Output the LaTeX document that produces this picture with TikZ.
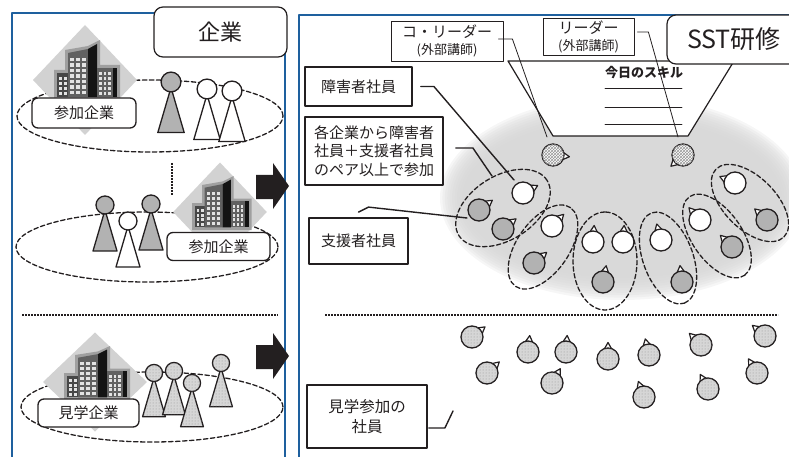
\documentclass[tikz,border=0pt]{standalone}
\usepackage{fontspec}
\setmainfont{Noto Sans CJK JP}
\usetikzlibrary{calc, patterns}

\definecolor{ink}{RGB}{35,31,32}
\definecolor{frameblue}{RGB}{30,96,158}

\tikzset{
  office/.pic={
    % grey tile behind the towers
    \fill[gray!35] (-52,0) -- (0,-55) -- (52,0) -- (0,55) -- cycle;
    \fill[gray!75] (-31,-10) -- (-20,-10) -- (-20,-30) -- (3,-34) -- (15,-40)
      -- (15,-15) -- (35,-15) -- (35,20) -- (-31,20) -- cycle;
    \fill[black!72] (-28,-7) rectangle (-17,17);
    \fill[black!62] (-17,-27) -- (3,-31) -- (3,17) -- (-17,17) -- cycle;
    \fill[black!92] (3,-31) -- (12,-36) -- (12,17) -- (3,17) -- cycle;
    \fill[black!62] (12,-12) rectangle (28,17);
    \fill[black!92] (28,-12) rectangle (32,17);
    % windows
    \foreach \i in {0,1,2}
      \foreach \j in {0,...,6}
        \fill[gray!22] (-15+6*\i,-22+5.5*\j) rectangle ++(3.5,3.5);
    \foreach \i in {0,1}
      \foreach \j in {0,...,3}
        \fill[gray!22] (-26+5*\i,-3+5*\j) rectangle ++(3,3);
    \foreach \i in {0,1,2}
      \foreach \j in {0,...,4}
        \fill[gray!22] (14+4.5*\i,-8+5*\j) rectangle ++(2.8,3);
  }
}

% a standing figure: head centre, look, size
\newcommand*\personicon[3]{%
  \begin{scope}[shift={(#1)}, scale=#3]
    \draw[#2] (0,5) -- (-12,46) -- (12,46) -- cycle;
    \draw[#2] (0,0) circle[radius=9pt];
  \end{scope}}

% a head seen from above: name, centre, facing, look
\newcommand*\headicon[4]{%
  \coordinate (#1) at (#2);
  \draw[nose] ($(#1)+(#3-35:9)$) -- ($(#1)+(#3:16.5)$) -- ($(#1)+(#3+35:9)$) -- cycle;
  \draw[#4] (#1) circle[radius=11pt];}

\begin{document}
\begin{tikzpicture}[
    x=1pt, y=-1pt,
    line cap=round, line join=round,
    every node/.style={text=ink},
    panel/.style={frameblue, line width=1.5pt, line cap=butt},
    title/.style={draw=ink, fill=white, line width=1.2pt, rounded corners=9pt, inner sep=0pt},
    tag/.style={draw=ink, fill=white, line width=1.3pt, rounded corners=6pt, inner sep=0pt,
      font=\fontsize{15}{15}\selectfont},
    note/.style={draw=ink, fill=white, line width=1.8pt, inner sep=0pt, align=center,
      font=\fontsize{15}{18.5}\selectfont},
    thinnote/.style={draw=ink, fill=white, line width=0.8pt, inner sep=0pt, align=center,
      font=\fontsize{15}{19}\selectfont},
    lead/.style={ink, line width=1.4pt},
    thinlead/.style={ink, line width=0.8pt},
    ring/.style={ink, line width=1.3pt, dash pattern=on 4.5pt off 2.5pt},
    sep/.style={ink, line width=2pt, line cap=butt, dash pattern=on 1.6pt off 1.4pt},
    nose/.style={draw=ink, fill=white, line width=1.2pt},
    greyfig/.style={draw=ink, line width=1.3pt, fill=gray!60},
    whitefig/.style={draw=ink, line width=1.3pt, fill=white},
    dotfig/.style={draw=ink, line width=1.3pt, fill=gray!32,
      postaction={pattern=dots, pattern color=gray!85}},
    hatchfig/.style={draw=ink, line width=1.3pt, fill=white,
      postaction={pattern=crosshatch, pattern color=gray!80}},
  ]
  \useasboundingbox (0,0) rectangle (789,457);
  \clip (0,0) rectangle (789,457);

  % frames
  \draw[panel] (12,460) -- (12,13) -- (285,13) -- (285,460);
  \draw[panel] (299,460) -- (299,15) -- (792,15);

  % ---- companies
  \draw[ring] (150,116) ellipse[x radius=133pt, y radius=36pt];
  \pic at (85,80) {office};
  \personicon{171,82}{greyfig}{1.1}
  \personicon{207,89}{whitefig}{1.1}
  \personicon{232,91}{whitefig}{1.1}
  \node[tag, minimum width=104pt, minimum height=30pt] (join1) at (84,113) {参加企業};

  \draw[sep] (172,163) -- (172,195);

  \draw[ring] (147,247) ellipse[x radius=131pt, y radius=35pt];
  \pic[scale=0.9] at (220,212) {office};
  \personicon{105,205}{greyfig}{1}
  \personicon{151,204}{greyfig}{1}
  \personicon{128,221}{whitefig}{1}
  \node[tag, minimum width=103pt, minimum height=28pt] (join2) at (218.5,246.5) {参加企業};

  \draw[sep] (22,315) -- (278,315);

  \draw[ring] (152,407) ellipse[x radius=131pt, y radius=35pt];
  \pic[yscale=0.9] at (95,382) {office};
  \personicon{154,373}{dotfig}{0.95}
  \personicon{174,371}{dotfig}{0.95}
  \personicon{192,383}{dotfig}{0.95}
  \personicon{221,363}{dotfig}{0.95}
  \node[tag, minimum width=101pt, minimum height=28pt] (visit) at (88.5,413) {見学企業};

  \node[title, minimum width=133pt, minimum height=50pt] (firms) at (220.5,32)
    {\fontsize{22}{22}\selectfont 企業};

  % arrows between the panels
  \foreach \dy in {0,170}
    \fill[ink] (256,175+\dy) -- (273,175+\dy) -- (273,163+\dy) -- (289,186+\dy)
      -- (273,209+\dy) -- (273,199+\dy) -- (256,199+\dy) -- cycle;

  % ---- training room
  \foreach \k in {0,...,9}
    \fill[black!16, opacity=0.22] (622,198) ellipse[x radius={182pt-2.4pt*\k}, y radius={102pt-2.4pt*\k}];

  \draw[ink, line width=1.2pt, fill=white] (508,61) -- (734,61) -- (688,136) -- (553,136) -- cycle;
  \node[font=\bfseries\fontsize{13}{13}\selectfont] (skill) at (644,73) {今日のスキル};
  \foreach \y in {88,107,124}
    \draw[ink, line width=0.8pt] (605,\y) -- (682,\y);

  \draw[ring, rotate around={32:(503,208)}] (503,208) ellipse[x radius=52pt, y radius=32pt];
  \draw[ring, rotate around={55:(543,247)}] (543,247) ellipse[x radius=48pt, y radius=26pt];
  \draw[ring, rotate around={90:(605,261)}] (605,261) ellipse[x radius=49pt, y radius=32pt];
  \draw[ring, rotate around={-70:(668,258)}] (668,258) ellipse[x radius=48pt, y radius=25pt];
  \draw[ring, rotate around={-55:(717,236)}] (717,236) ellipse[x radius=48pt, y radius=25pt];
  \draw[ring, rotate around={-45:(750,203)}] (750,203) ellipse[x radius=48pt, y radius=26pt];

  \headicon{co}{553,155}{6}{hatchfig}
  \headicon{ld}{683,155}{137}{hatchfig}
  \foreach \n/\x/\y/\d/\s in {
      a/523/193/-27/whitefig, b/479/210/-36/greyfig, c/503/229/-38/greyfig,
      d/552/226/-45/whitefig, e/534/263/-40/greyfig,
      f/593/242/-86/whitefig, g/623/242/-86/whitefig, h/603/282/-79/greyfig,
      i/661/240/-105/whitefig, j/682/282/-97/greyfig,
      k/700/220/-132/whitefig, l/732/247/-135/greyfig,
      m/735/183/-157/whitefig, n/767/220/-138/greyfig}
    \headicon{\n}{\x,\y}{\d}{\s};

  \draw[sep] (325,315) -- (778,315);

  % guests
  \foreach \n/\x/\y/\d in {
      v1/472/337/-38, v2/487/373/-42, v3/528/352/-84, v4/566/352/-86,
      v5/552/383/-60, v6/608/359/-90, v7/649/355/-103, v8/644/397/-110,
      v9/701/345/-135, v10/708/389/-118, v11/765/336/-140, v12/757/373/-121}
    \headicon{\n}{\x,\y}{\d}{dotfig};

  % callouts
  \node[thinnote, minimum width=112pt, minimum height=40pt] (coled) at (447,41)
    {コ・リーダー\\[-2pt]{\fontsize{13}{13}\selectfont (外部講師)}};
  \node[thinnote, minimum width=91pt, minimum height=37pt] (lead) at (588.5,36.5)
    {リーダー\\[-2pt]{\fontsize{13}{13}\selectfont (外部講師)}};
  \node[title, minimum width=134pt, minimum height=49pt] (sst) at (734,39.5)
    {\fontsize{25}{25}\selectfont SST研修};

  \coordinate (coend) at (547,137);
  \coordinate (ldend) at (678,137);
  \draw[thinlead] ([shift={(-5pt,2pt)}]coled.east) -- ++(14,0) -- (coend);
  \draw[thinlead] ([shift={(3pt,4.5pt)}]lead.east) -- ++(11,0) -- (ldend);

  \node[note, minimum width=107pt, minimum height=39pt] (disab) at (358.5,86.5) {障害者社員};
  \node[note, minimum width=138pt, minimum height=68pt] (pair) at (374,151)
    {各企業から障害者\\社員＋支援者社員\\のペア以上で参加};
  \node[note, minimum width=99pt, minimum height=46pt] (support) at (358.5,241) {支援者社員};
  \node[note, minimum width=120pt, minimum height=63pt, font=\fontsize{15.5}{20}\selectfont] (watch) at (367,416.5)
    {見学参加の\\社員};

  \coordinate (aend) at (514,180);
  \coordinate (pairend) at (492,176);
  \coordinate (supend) at (467,218);
  \coordinate (watchend) at (453,411);
  \draw[lead] ([xshift=8pt]disab.east) -- ++(13,0) -- (aend);
  \draw[lead] ([shift={(12pt,3pt)}]pair.east) -- ++(17,0) -- (pairend);
  \draw[lead] ([yshift=5pt]support.north) -- ++(10,-5) -- (supend);
  \draw[lead] ([shift={(1pt,-11.5pt)}]watch.east) -- ++(16,0) -- (watchend);
\end{tikzpicture}
\end{document}
